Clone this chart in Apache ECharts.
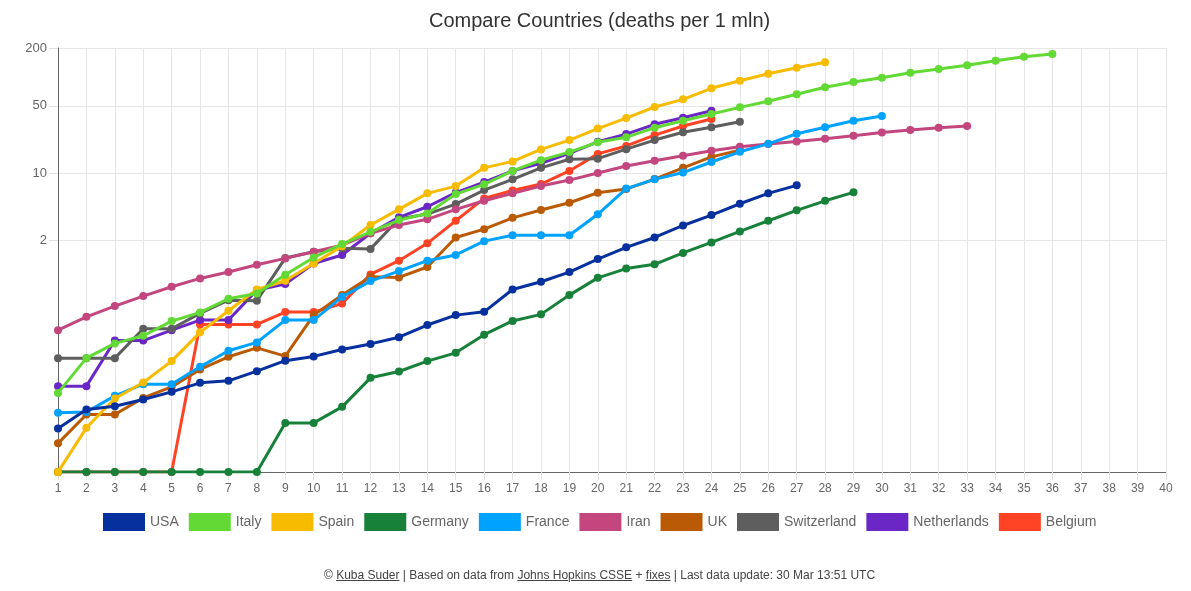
<!DOCTYPE html>
<html>
<head>
<meta charset="utf-8">
<script src="https://cdn.jsdelivr.net/npm/echarts@6/dist/echarts.min.js"></script>
<style>
  html, body { margin: 0; padding: 0; background: #fff; }
  #chart { width: 1191px; height: 591px; }
  #footer {
    position: absolute; left: 4px; top: 568px; width: 1191px; text-align: center;
    font-family: "Liberation Sans", Arial, sans-serif; font-size: 12px; color: #444;
  }
  #footer u { text-decoration: underline; }
</style>
</head>
<body>
<div id="chart"></div>
<div id="footer">© <u>Kuba Suder</u> | Based on data from <u>Johns Hopkins CSSE</u> + <u>fixes</u> | Last data update: 30 Mar 13:51 UTC</div>
<script>
// ---- data (deaths per 1 mln, day 1..N) ----
const FLOOR = 0.0077; // value drawn on the bottom edge (no deaths yet)
const countries = ['USA', 'Italy', 'Spain', 'Germany', 'France', 'Iran', 'UK', 'Switzerland', 'Netherlands', 'Belgium'];
const colors = ['#06309e', '#62d934', '#f7bb00', '#17813a', '#00a2ff', '#c3467f', '#ba5a04', '#5e5e5e', '#6a27c5', '#ff4324'];

const usa = [0.0219, 0.0345, 0.0373, 0.0438, 0.0526, 0.0653, 0.0685, 0.0863, 0.111, 0.123, 0.145, 0.166, 0.195, 0.261, 0.331, 0.358, 0.612, 0.736, 0.929, 1.27, 1.68, 2.13, 2.84, 3.64, 4.78, 6.13, 7.43];
const italy = [0.0513, 0.118, 0.168, 0.202, 0.287, 0.353, 0.490, 0.557, 0.871, 1.32, 1.82, 2.44, 3.23, 3.79, 6.03, 7.62, 10.5, 13.6, 16.5, 20.9, 23.5, 29.6, 35.0, 41.1, 48.2, 55.7, 65.9, 77.9, 88.5, 98.1, 110.6, 120.8, 132.1, 147.5, 162.3, 173.2];
const spain = [FLOOR, 0.0222, 0.0449, 0.0659, 0.110, 0.219, 0.367, 0.612, 0.754, 1.14, 1.73, 2.87, 4.18, 6.13, 7.30, 11.3, 13.2, 17.6, 22.0, 29.0, 37.3, 48.6, 58.4, 76.1, 91.3, 108.0, 124.7, 141.9];
const germany = [FLOOR, FLOOR, FLOOR, FLOOR, FLOOR, FLOOR, FLOOR, FLOOR, 0.0250, 0.0250, 0.0367, 0.0736, 0.0857, 0.110, 0.134, 0.207, 0.288, 0.337, 0.535, 0.809, 1.01, 1.12, 1.47, 1.89, 2.46, 3.18, 4.08, 5.13, 6.28];
const france = [0.0318, 0.0325, 0.0478, 0.0632, 0.0632, 0.0958, 0.141, 0.172, 0.294, 0.294, 0.513, 0.748, 0.951, 1.22, 1.40, 1.95, 2.25, 2.25, 2.25, 3.71, 6.87, 8.58, 10.1, 13.0, 16.6, 20.1, 25.6, 29.9, 35.0, 39.1];
const iran = [0.231, 0.318, 0.411, 0.522, 0.653, 0.798, 0.929, 1.106, 1.29, 1.51, 1.77, 2.35, 2.87, 3.29, 4.18, 5.14, 6.13, 7.30, 8.43, 10.0, 11.8, 13.4, 15.1, 17.0, 18.7, 20.0, 21.3, 22.7, 24.4, 26.4, 28.0, 29.6, 30.8];
const uk = [0.0153, 0.0306, 0.0306, 0.0455, 0.0593, 0.0900, 0.122, 0.151, 0.124, 0.331, 0.535, 0.830, 0.817, 1.05, 2.13, 2.60, 3.41, 4.11, 4.90, 6.22, 6.80, 8.64, 11.3, 14.7, 17.3];
const switzerland = [0.118, 0.118, 0.118, 0.239, 0.239, 0.345, 0.474, 0.468, 1.30, 1.51, 1.64, 1.62, 3.31, 3.73, 4.74, 6.63, 8.58, 11.3, 13.9, 14.1, 17.7, 22.0, 26.5, 29.9, 34.2];
const netherlands = [0.0603, 0.0603, 0.180, 0.180, 0.231, 0.294, 0.294, 0.603, 0.696, 1.14, 1.40, 2.36, 3.45, 4.45, 6.25, 8.04, 10.5, 12.6, 16.0, 21.1, 25.4, 32.1, 37.6, 44.4];
const belgium = [FLOOR, FLOOR, FLOOR, FLOOR, FLOOR, 0.265, 0.265, 0.265, 0.356, 0.356, 0.438, 0.879, 1.22, 1.85, 3.18, 5.43, 6.56, 7.66, 10.5, 15.8, 19.1, 24.8, 30.8, 36.4];

const seriesValues = [usa, italy, spain, germany, france, iran, uk, switzerland, netherlands, belgium];
const yTicks = [2, 10, 50, 200];
const xMin = 1, xMax = 40;

const FONT = '"Liberation Sans", Arial, Helvetica, sans-serif';

const chart = echarts.init(document.getElementById('chart'), null, { renderer: 'canvas' });

const series = countries.map((name, i) => ({
  name: name,
  type: 'line',
  data: seriesValues[i].map((v, k) => [k + 1, v]),
  z: 30 - i,
  symbol: 'circle',
  symbolSize: 8,
  showSymbol: true,
  lineStyle: { width: 3, color: colors[i] },
  itemStyle: { color: colors[i] },
  emphasis: { disabled: true },
  animation: false
}));

chart.setOption({
  animation: false,
  textStyle: { fontFamily: FONT },
  color: colors,
  title: {
    text: 'Compare Countries (deaths per 1 mln)',
    left: 424,
    top: 6,
    textStyle: { fontSize: 20, fontWeight: 'normal', color: '#333', fontFamily: FONT }
  },
  legend: {
    data: countries,
    top: 508,
    left: 98,
    icon: 'rect',
    itemWidth: 42,
    itemHeight: 18,
    itemGap: 10,
    textStyle: { fontSize: 14, color: '#666', fontFamily: FONT }
  },
  grid: { left: 58, right: 25, top: 48, bottom: 119, containLabel: false },
  xAxis: {
    type: 'value',
    min: xMin,
    max: xMax,
    interval: 1,
    axisLine: { show: true, lineStyle: { color: '#666', width: 1 } },
    axisTick: { show: true, length: 8, lineStyle: { color: '#e2e2e2' } },
    axisLabel: { color: '#666', fontSize: 12, margin: 11, fontFamily: FONT },
    splitLine: { show: true, lineStyle: { color: '#e6e6e6' } }
  },
  yAxis: {
    type: 'log',
    logBase: 10,
    min: FLOOR,
    max: 200,
    axisLine: { show: true, lineStyle: { color: '#666', width: 1 } },
    axisTick: { show: true, length: 9, customValues: yTicks, lineStyle: { color: '#e2e2e2' } },
    axisLabel: { color: '#666', fontSize: 13, margin: 11, customValues: yTicks, fontFamily: FONT },
    splitLine: { show: true, lineStyle: { color: '#e6e6e6' } },
    minorTick: { show: false },
    minorSplitLine: { show: false }
  },
  series: series
});
</script>
</body>
</html>
